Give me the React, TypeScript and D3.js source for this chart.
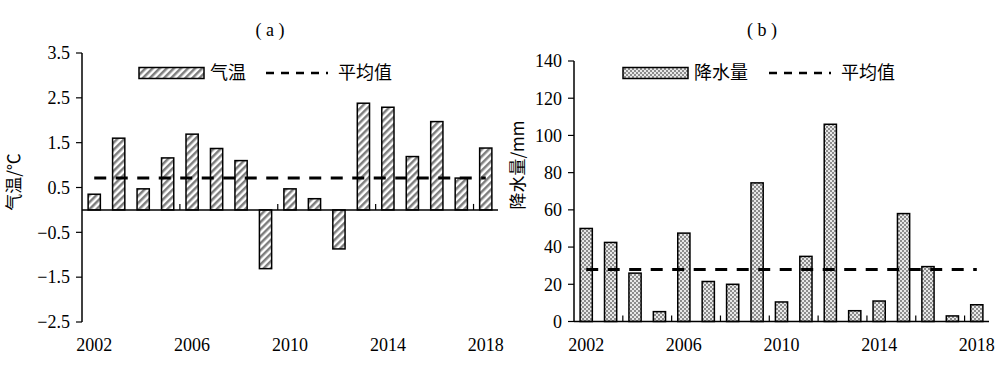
import * as d3 from "d3";

const years = d3.range(2002, 2019).map(String);
const tempValues = [0.35, 1.6, 0.47, 1.16, 1.69, 1.37, 1.1, -1.31, 0.47, 0.25, -0.87, 2.38, 2.29, 1.19, 1.97, 0.71, 1.38];
const tempMean = 0.71;
const rainValues = [50, 42.5, 26, 5.3, 47.5, 21.5, 20, 74.5, 10.5, 35, 106, 5.8, 11, 58, 29.5, 3, 9];
const rainMean = 28;
const tempTicks = [3.5, 2.5, 1.5, 0.5, -0.5, -1.5, -2.5];
const rainTicks = [0, 20, 40, 60, 80, 100, 120, 140];
const yearLabels = ["2002", "2006", "2010", "2014", "2018"];

const serif = "'Liberation Serif', 'Times New Roman', serif";
const cjk = "'Noto Sans CJK SC', 'Liberation Serif', serif";

function fmt(v: number) {
  return v < 0 ? "\u2212" + Math.abs(v).toFixed(1) : v.toFixed(1);
}

interface PanelProps {
  values: number[];
  mean: number;
  ticks: number[];
  domain: [number, number];
  left: number;
  right: number;
  top: number;
  bottom: number;
  fill: string;
  tickEvery: number;
  tickFmt: (v: number) => string;
  yLabel: string;
  yLabelX: number;
  yLabelY: number;
  title: string;
  titleX: number;
  legendX: number;
  legendName: string;
}

function Panel(p: PanelProps) {
  const x = d3.scaleBand<string>().domain(years).range([p.left, p.right]).paddingInner(0.5).paddingOuter(0.25);
  const y = d3.scaleLinear().domain(p.domain).range([p.bottom, p.top]);
  const y0 = y(0);
  const step = x.step();
  const boundaries = d3.range(p.tickEvery, years.length, p.tickEvery).map((i) => p.left + i * step);
  const first = x(years[0])! + x.bandwidth() / 2;
  const last = x(years[years.length - 1])! + x.bandwidth() / 2;
  const lg = p.legendX;
  const nameW = p.legendName.length * 19;
  return (
    <g>
      <text x={p.titleX} y={36} textAnchor="middle" fontFamily={serif} fontSize={18}>
        ( {p.title} )
      </text>
      {/* y axis */}
      <line x1={p.left} x2={p.left} y1={p.top} y2={p.bottom} stroke="#000" strokeWidth={1.5} />
      {p.ticks.map((t) => (
        <g key={t}>
          <line x1={p.left - 6} x2={p.left} y1={y(t)} y2={y(t)} stroke="#000" strokeWidth={1.2} />
          <text x={p.left - 12} y={y(t)} dy="0.35em" textAnchor="end" fontFamily={serif} fontSize={18}>
            {p.tickFmt(t)}
          </text>
        </g>
      ))}
      <text
        transform={`translate(${p.yLabelX},${p.yLabelY}) rotate(-90)`}
        textAnchor="middle"
        dy="0.35em"
        fontFamily={cjk}
        fontSize={17}
      >
        {p.yLabel}
      </text>
      {/* bars */}
      {years.map((yr, i) => {
        const v = p.values[i];
        return (
          <rect
            key={yr}
            x={x(yr)}
            y={Math.min(y(v), y0)}
            width={x.bandwidth()}
            height={Math.abs(y(v) - y0)}
            fill={p.fill}
            stroke="#000"
            strokeWidth={1.5}
          />
        );
      })}
      {/* x axis at zero */}
      <line x1={p.left} x2={p.right} y1={y0} y2={y0} stroke="#000" strokeWidth={1.5} />
      {boundaries.map((bx) => (
        <line key={bx} x1={bx} x2={bx} y1={y0} y2={y0 - 6} stroke="#000" strokeWidth={1.2} />
      ))}
      {yearLabels.map((yr) => (
        <text key={yr} x={x(yr)! + x.bandwidth() / 2} y={345} dy="0.35em" textAnchor="middle" fontFamily={serif} fontSize={18}>
          {yr}
        </text>
      ))}
      {/* mean line */}
      <line x1={first} x2={last} y1={y(p.mean)} y2={y(p.mean)} stroke="#000" strokeWidth={3} strokeDasharray="12,9.5" />
      {/* legend */}
      <rect x={lg} y={67.5} width={65} height={11} fill={p.fill} stroke="#000" strokeWidth={1.5} />
      <text x={lg + 71} y={73} dy="0.35em" fontFamily={cjk} fontSize={18}>
        {p.legendName}
      </text>
      <line
        x1={lg + 71 + nameW + 18}
        x2={lg + 71 + nameW + 80}
        y1={73}
        y2={73}
        stroke="#000"
        strokeWidth={2.5}
        strokeDasharray="8,7"
      />
      <text x={lg + 71 + nameW + 90} y={73} dy="0.35em" fontFamily={cjk} fontSize={18}>
        平均值
      </text>
    </g>
  );
}

export default function App() {
  return (
    <svg width={1000} height={369} style={{ display: "block", position: "absolute", left: 0, top: 0 }}>
      <defs>
        <pattern id="hatch" width={5} height={5} patternUnits="userSpaceOnUse" patternTransform="rotate(45)">
          <rect width={5} height={5} fill="#fff" />
          <rect width={2.5} height={5} fill="#7e7e7e" />
        </pattern>
        <pattern id="dots" width={4} height={4} patternUnits="userSpaceOnUse">
          <rect width={4} height={4} fill="#e8e8e8" />
          <rect width={2} height={2} fill="#8c8c8c" />
          <rect x={2} y={2} width={2} height={2} fill="#8c8c8c" />
        </pattern>
      </defs>
      <Panel
        values={tempValues}
        mean={tempMean}
        ticks={tempTicks}
        domain={[-2.5, 3.5]}
        left={82}
        right={498}
        top={53}
        bottom={322}
        fill="url(#hatch)"
        tickEvery={4}
        tickFmt={fmt}
        yLabel="气温/℃"
        yLabelX={14}
        yLabelY={182}
        title="a"
        titleX={270}
        legendX={139}
        legendName="气温"
      />
      <Panel
        values={rainValues}
        mean={rainMean}
        ticks={rainTicks}
        domain={[0, 140]}
        left={574}
        right={989}
        top={61}
        bottom={321.5}
        fill="url(#dots)"
        tickEvery={2}
        tickFmt={(v) => String(v)}
        yLabel="降水量/mm"
        yLabelX={518}
        yLabelY={165}
        title="b"
        titleX={762}
        legendX={623}
        legendName="降水量"
      />
    </svg>
  );
}
